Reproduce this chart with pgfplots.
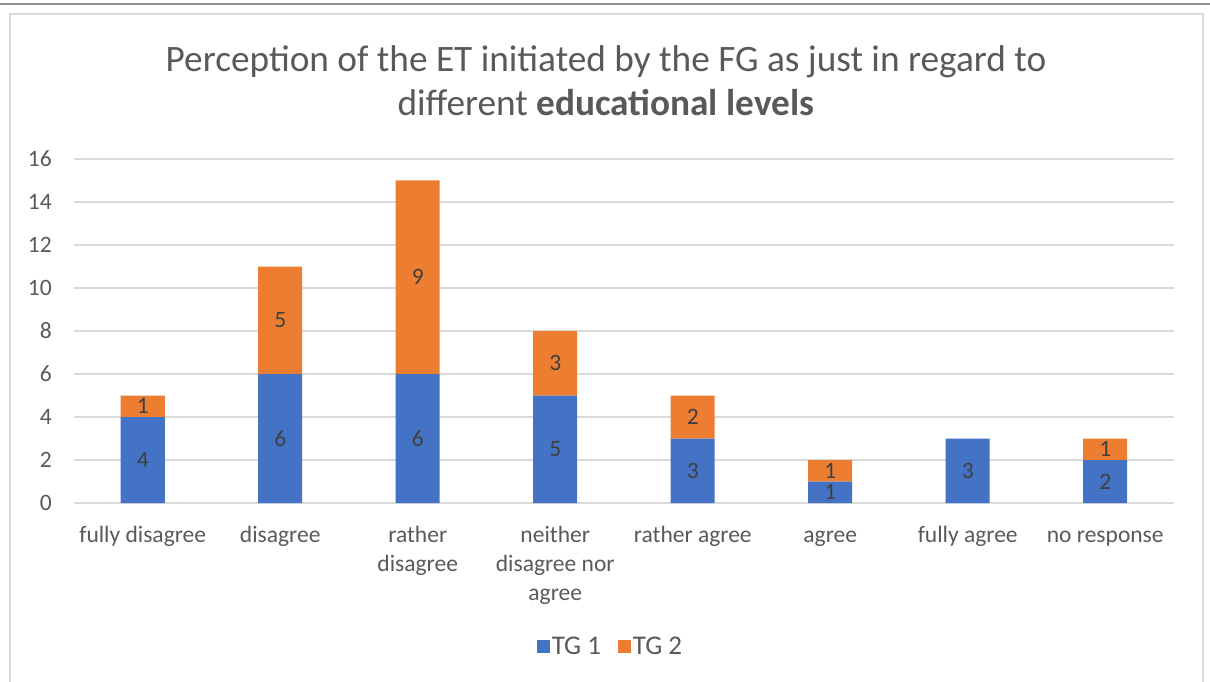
\documentclass[border=0pt]{standalone}
\usepackage{pgfplots}
\pgfplotsset{compat=1.18}
\usepackage{fontspec}
\setmainfont{Carlito}
\definecolor{xlblue}{HTML}{4472C4}
\definecolor{xlorange}{HTML}{ED7D31}
\definecolor{xlgrid}{HTML}{D9D9D9}
\definecolor{xltext}{HTML}{595959}
\definecolor{xllabel}{HTML}{404040}

\pgfplotsset{
  frame/.style={
    at={(74pt,178pt)}, anchor=south west,
    scale only axis, width=1100pt, height=344pt,
    xmin=-0.5, xmax=7.5, ymin=0, ymax=16, enlargelimits=false,
  },
}

\begin{document}
\begin{tikzpicture}[x=1pt,y=1pt]
% page = 1210 x 681, 1pt per pixel of the reference
\path[use as bounding box] (0,0) rectangle (1210,681);
\draw[line width=2.2pt, gray!85] (0,677) -- (1210,677);
\draw[line width=1.2pt, xlgrid] (10,-2) -- (10,667) -- (1203,667) -- (1203,-2);
\node[font=\fontsize{37.3}{44}\selectfont, text=xltext, align=center]
  at (606,600) {Perception of the ET initiated by the FG as just in regard to\\
  different \textbf{educational levels}};
\begin{axis}[
  frame,
  ybar stacked, bar width=44pt,
  xtick={0,...,7},
  xticklabels={\strut fully disagree, \strut disagree, \strut rather\\disagree,
    \strut neither\\disagree nor\\agree, \strut rather agree, \strut agree,
    \strut fully agree, \strut no response},
  ytick={0,2,...,16},
  /pgf/number format/assume math mode=true,
  ymajorgrids, grid style={xlgrid, line width=1.3pt},
  axis line style={draw=none}, tick style={draw=none},
  tick label style={font=\fontsize{23.5}{29}\selectfont, text=xltext},
  yticklabel style={inner sep=0pt, anchor=east, xshift=-22pt},
  xticklabel style={inner sep=0pt, anchor=north, align=center, yshift=-18.7pt},
  legend columns=2,
  legend style={at={(0.4877,-0.4157)}, anchor=center, draw=none,
    font=\fontsize{27}{29}\selectfont, text=xltext,
    nodes={inner sep=1.5pt},
    /tikz/every even column/.append style={column sep=16pt}},
  legend image code/.code={\fill[#1, draw=none] (0pt,-6.5pt) rectangle (13pt,6.5pt);},
]
\addplot[fill=xlblue, draw=none] coordinates {
  (0,4) (1,6) (2,6) (3,5) (4,3) (5,1) (6,3) (7,2)};
\addplot[fill=xlorange, draw=none] coordinates {
  (0,1) (1,5) (2,9) (3,3) (4,2) (5,1) (6,0) (7,1)};
\legend{TG 1, TG 2}
\end{axis}
% data labels, at the middle of each segment
\begin{axis}[
  frame, hide axis,
  point meta=explicit symbolic,
  nodes near coords,
  every node near coord/.append style={font=\fontsize{23.5}{26}\selectfont,
    text=xllabel, anchor=center, inner sep=0pt},
]
\addplot[only marks, mark=none] coordinates {
  (0,2) [4] (1,3) [6] (2,3) [6] (3,2.5) [5] (4,1.5) [3] (5,0.5) [1]
  (6,1.5) [3] (7,1) [2]};
\addplot[only marks, mark=none] coordinates {
  (0,4.5) [1] (1,8.5) [5] (2,10.5) [9] (3,6.5) [3] (4,4) [2] (5,1.5) [1]
  (7,2.5) [1]};
\end{axis}
\end{tikzpicture}
\end{document}
